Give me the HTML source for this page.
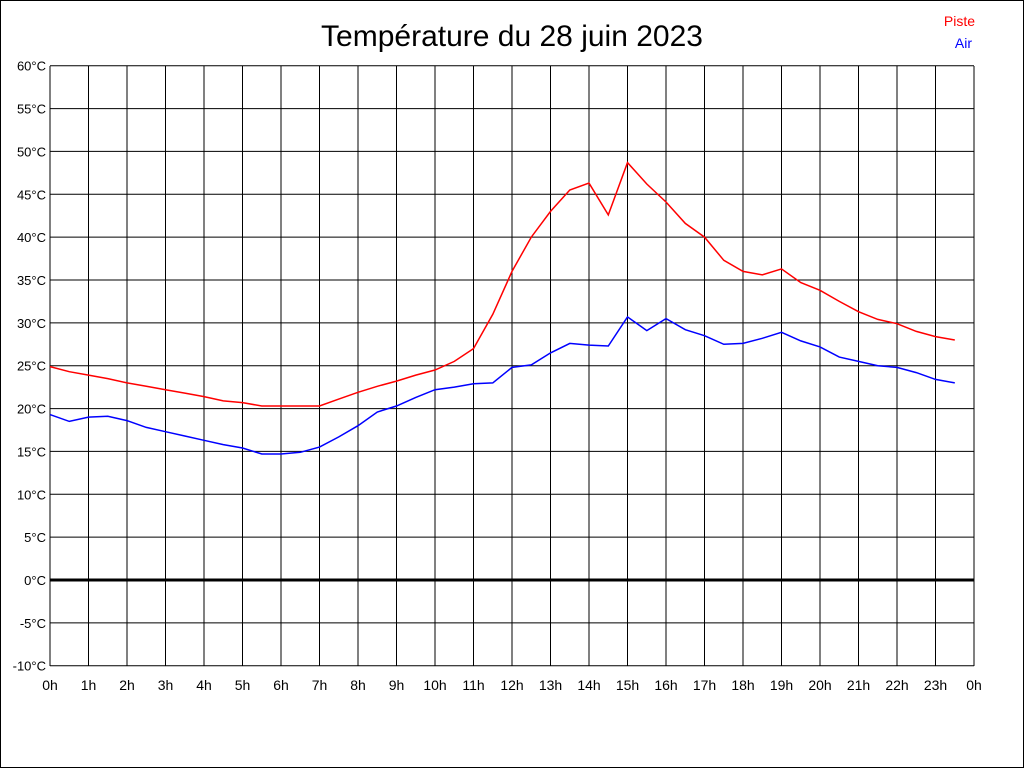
<!DOCTYPE html>
<html><head><meta charset="utf-8"><style>
html,body{margin:0;padding:0;background:#fff}
svg{display:block}
text{font-family:"Liberation Sans",sans-serif}
</style></head><body>
<svg id="s" width="1024" height="768" xmlns="http://www.w3.org/2000/svg">
<rect x="0.5" y="0.5" width="1023" height="767" fill="#fff" stroke="#000"/>
<text x="512" y="46" font-size="30" text-anchor="middle">Température du 28 juin 2023</text>
<text x="975" y="26" font-size="14" fill="#f00" text-anchor="end">Piste</text>
<text x="972" y="48" font-size="14" fill="#00f" text-anchor="end">Air</text>
<g id="g"></g>
</svg>
<script>
var g=document.getElementById('g'),h='';
var x0=50,x1=974,y0=66,y1=666,px=38.5,pd=600/70;
function Y(v){return 580-pd*v;}
for(var i=0;i<=24;i++){var x=x0+i*px;h+='<line x1="'+x+'" y1="'+y0+'" x2="'+x+'" y2="'+y1+'" stroke="#000"/>';
h+='<text x="'+x+'" y="690" font-size="14" text-anchor="middle">'+(i%24)+'h</text>';}
for(var v=-10;v<=60;v+=5){var y=Y(v);h+='<line x1="'+x0+'" y1="'+y+'" x2="'+x1+'" y2="'+y+'" stroke="#000" stroke-width="'+(v==0?3:1)+'"/>';
h+='<text x="46" y="'+(y+5)+'" font-size="13" text-anchor="end">'+v+'°C</text>';}
var r=[24.9,24.3,23.9,23.5,23.0,22.6,22.2,21.8,21.4,20.9,20.7,20.3,20.3,20.3,20.3,21.1,21.9,22.6,23.2,23.9,24.5,25.5,27.0,31,36,40,43,45.5,46.3,42.6,48.7,46.2,44.1,41.6,40,37.3,36,35.6,36.3,34.7,33.8,32.5,31.3,30.4,29.9,29.0,28.4,28.0];
var b=[19.3,18.5,19.0,19.1,18.6,17.8,17.3,16.8,16.3,15.8,15.4,14.7,14.7,14.9,15.5,16.7,18.0,19.6,20.3,21.3,22.2,22.5,22.9,23.0,24.8,25.1,26.5,27.6,27.4,27.3,30.7,29.1,30.5,29.2,28.5,27.5,27.6,28.2,28.9,27.9,27.2,26.0,25.5,25.0,24.8,24.2,23.4,23.0];
function pl(a,c){return '<polyline fill="none" stroke="'+c+'" stroke-width="1.5" points="'+a.map(function(v,i){return (x0+i*px/2).toFixed(1)+','+Y(v).toFixed(1)}).join(' ')+'"/>';}
h+=pl(r,'#f00')+pl(b,'#00f');
g.innerHTML=h;
</script>
</body></html>
